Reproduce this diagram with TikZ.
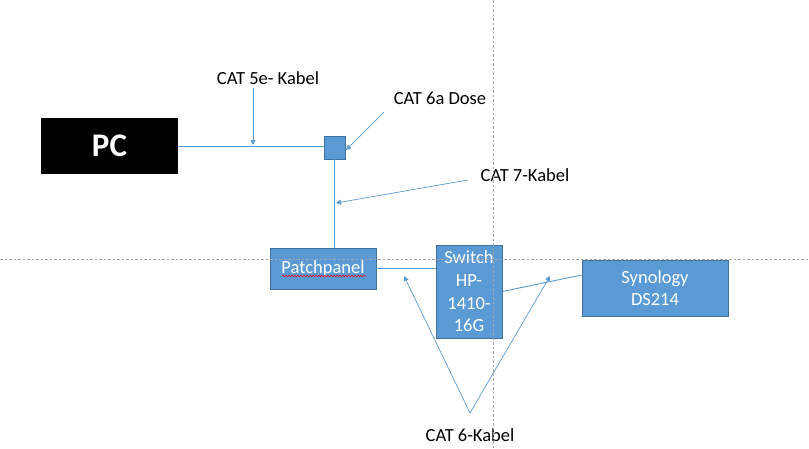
\documentclass[tikz,border=0pt]{standalone}
\usepackage{fontspec}
\setmainfont{Carlito}
\usetikzlibrary{arrows.meta,decorations.pathmorphing}
\definecolor{boxblue}{HTML}{5B9BD5}
\definecolor{boxedge}{HTML}{41719C}
\definecolor{linkblue}{HTML}{5B9BD5}
\tikzset{
  bluebox/.style={draw=boxedge, fill=boxblue, line width=0.8pt, text=white, font=\fontsize{18.5}{22}\selectfont, align=center, inner sep=0pt},
  cable/.style={draw=linkblue, line width=0.9pt},
  pointer/.style={draw=linkblue, line width=0.7pt, -{Triangle[width=5pt,length=5pt]}},
  lbl/.style={font=\fontsize{18.5}{22}\selectfont, text=black, inner sep=1pt},
  guide/.style={draw=gray!70, line width=0.5pt, dash pattern=on 2.5pt off 2pt}
}
\begin{document}
\begin{tikzpicture}[x=1pt,y=-1pt]
\useasboundingbox (0,0) rectangle (809,448);
% nodes
\node[fill=black, text=white, minimum width=137pt, minimum height=56pt, inner sep=0pt, font=\fontsize{33}{36}\selectfont\bfseries] (pc) at (109.5,146) {PC};
\node[bluebox, minimum width=21pt, minimum height=23pt] (dose) at (334.5,147.5) {};
\node[bluebox, minimum width=106pt, minimum height=41pt] (patch) at (323,268.5) {Patchpanel};
\node[bluebox, minimum width=66pt, minimum height=93pt, font=\fontsize{18.5}{22.7}\selectfont] (switch) at (469,291.5) {Switch\\HP-\\1410-\\16G};
\node[bluebox, minimum width=146pt, minimum height=56pt, font=\fontsize{18.5}{21.5}\selectfont] (syn) at (655,288) {Synology\\DS214};
% spellcheck underline
\draw[red, line width=0.6pt, decorate, decoration={snake, amplitude=0.8pt, segment length=3pt}] (282,276) -- (366,276);
% cables
\draw[cable] (pc.east) -- (dose.west |- pc.east);
\draw[cable] (dose.south) -- (dose.south |- patch.north);
\draw[cable] (patch.east) -- (patch.east -| switch.west);
\draw[cable] (switch.east) -- ([yshift=13pt]syn.west);
% labels
\node[lbl] (l5e) at (268,78) {CAT 5e- Kabel};
\node[lbl] (l6a) at (440,98) {CAT 6a Dose};
\node[lbl] (l7) at (525,175) {CAT 7-Kabel};
\node[lbl] (l6) at (470,435) {CAT 6-Kabel};
\coordinate (a5e) at (253,145);
\coordinate (a6a) at (346,150);
\coordinate (a7) at (336,203);
\coordinate (a6l) at (404,276);
\coordinate (a6r) at (550,276);
\coordinate (t6) at (470,413);
\draw[pointer] (253,88) -- (a5e);
\draw[pointer] (384,112) -- (a6a);
\draw[pointer] (468,180) -- (a7);
\draw[pointer] (t6) -- (a6l);
\draw[pointer] (t6) -- (a6r);
% guides
\draw[guide] (493,0) -- (493,448);
\draw[guide] (0,259) -- (809,259);
\end{tikzpicture}
\end{document}
